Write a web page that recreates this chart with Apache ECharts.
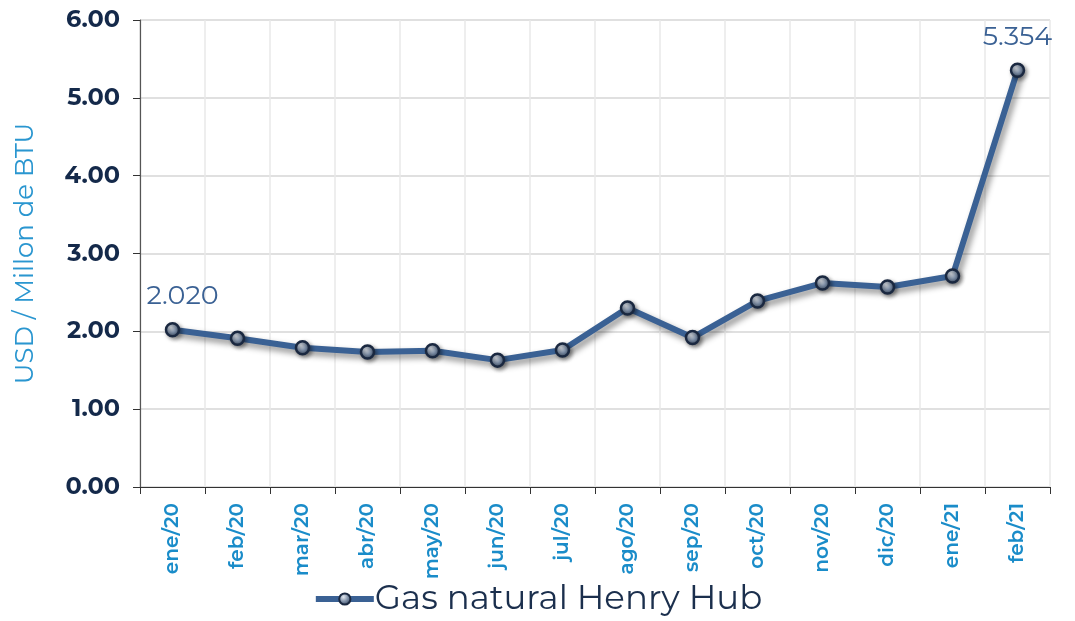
<!DOCTYPE html>
<html><head><meta charset="utf-8">
<script src="https://cdn.jsdelivr.net/npm/echarts@6/dist/echarts.min.js"></script>
<style>html,body{margin:0;padding:0;background:#fff}#c{width:1075px;height:621px}</style>
</head><body><div id="c"></div>
<script>
const categories = ['ene/20','feb/20','mar/20','abr/20','may/20','jun/20','jul/20','ago/20','sep/20','oct/20','nov/20','dic/20','ene/21','feb/21'];
const henryHub = [2.020,1.91,1.79,1.735,1.75,1.63,1.76,2.30,1.92,2.39,2.62,2.57,2.71,5.354];
const labeledIdx = [0, 13];
const yTicks = {min:0, max:6, interval:1};
const seriesName = 'Gas natural Henry Hub';
const yName = 'USD / Millon de BTU';

const font = 'Montserrat, "Open Sans", Lato, sans-serif';
const lineColor = '#3a6194';
const markerFill = {type:'radial', x:0.4, y:0.35, r:0.7, colorStops:[{offset:0,color:'#e4e9f0'},{offset:0.5,color:'#7d8ea6'},{offset:1,color:'#2a3a52'}]};

const chart = echarts.init(document.getElementById('c'));
chart.setOption({
  animation:false,
  grid:{left:140, right:25, top:20, bottom:134},
  legend:{
    bottom:0, left:'center', itemWidth:58, itemHeight:14, itemGap:6,
    lineStyle:{width:6, color:lineColor},
    textStyle:{fontFamily:font, fontSize:34, color:'#1b2f4d', padding:[0,0,0,-4]},
    data:[seriesName]
  },
  xAxis:{
    type:'category', data:categories, boundaryGap:true,
    axisLine:{lineStyle:{color:'#333', width:1.2}},
    axisTick:{show:true, length:7, lineStyle:{color:'#333'}},
    splitLine:{show:true, lineStyle:{color:'#e8e8e8', width:1.5}},
    axisLabel:{rotate:90, margin:16, fontFamily:font, fontSize:20, fontWeight:600, color:'#1a8cc9', interval:0}
  },
  yAxis:{
    type:'value', min:yTicks.min, max:yTicks.max, interval:yTicks.interval,
    name:yName, nameLocation:'middle', nameGap:102, nameRotate:90,
    nameTextStyle:{fontFamily:font, fontSize:26, color:'#2a96d0'},
    axisLine:{show:true, lineStyle:{color:'#555', width:1.2}},
    axisTick:{show:true, length:7, lineStyle:{color:'#333'}},
    splitLine:{lineStyle:{color:'#d6d6d6', width:1.5}},
    axisLabel:{margin:20, fontFamily:font, fontSize:24, fontWeight:'bold', color:'#14294a', formatter:v=>v.toFixed(2)}
  },
  series:[{
    name:seriesName, type:'line',
    data:henryHub.map((v,i)=>({value:v, label:{show:labeledIdx.includes(i), offset: i===0?[10,0]:[0,0]}})),
    symbol:'circle', symbolSize:13,
    lineStyle:{color:lineColor, width:6, shadowColor:'rgba(0,0,0,0.45)', shadowBlur:6, shadowOffsetX:3, shadowOffsetY:4},
    itemStyle:{color:markerFill, borderColor:'#1a2840', borderWidth:2.5, shadowColor:'rgba(0,0,0,0.4)', shadowBlur:4, shadowOffsetX:2, shadowOffsetY:2},
    label:{position:'top', distance:12, fontFamily:font, fontSize:27, color:lineColor, formatter:p=>p.value.toFixed(3)}
  }]
});
</script></body></html>
